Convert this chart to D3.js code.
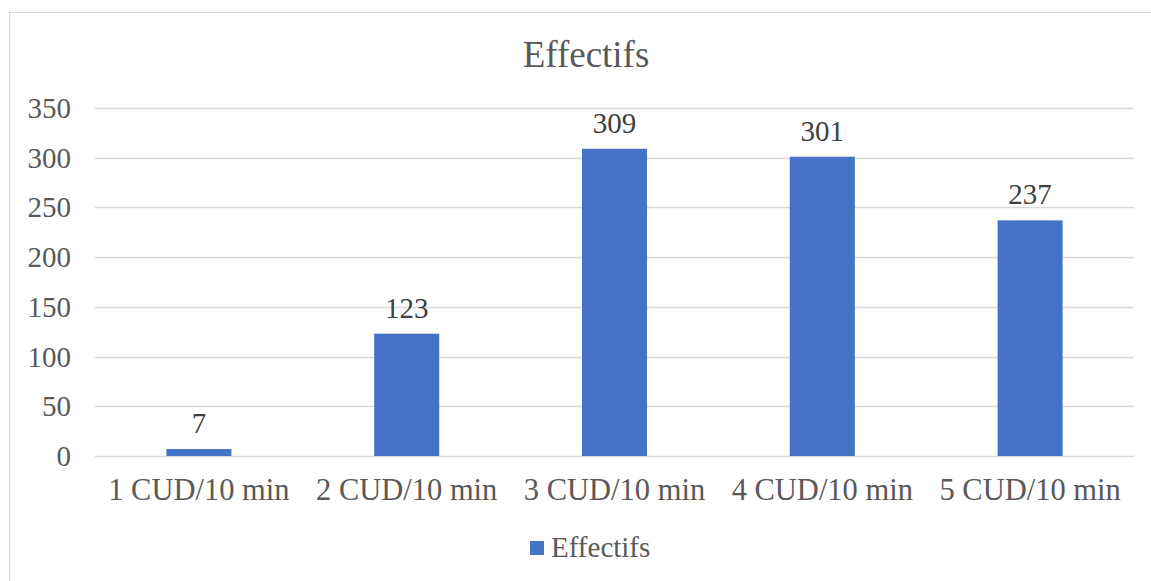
<!DOCTYPE html>
<html><head><meta charset="utf-8">
<script src="https://cdn.jsdelivr.net/npm/d3@7"></script>
<style>body{margin:0;background:#fff}svg{display:block}</style>
</head><body>
<script>
const categories = ["1 CUD/10 min","2 CUD/10 min","3 CUD/10 min","4 CUD/10 min","5 CUD/10 min"];
const values = [7,123,309,301,237];
const yTicks = [0,50,100,150,200,250,300,350];
const seriesName = "Effectifs";
const title = "Effectifs";

(function(){
const W=1151,H=581;
const svg=d3.select("body").append("svg").attr("width",W).attr("height",H);
const font="Liberation Serif, Times New Roman, serif";
svg.append("rect").attr("x",9.5).attr("y",12.5).attr("width",1160).attr("height",600)
  .attr("fill","#fff").attr("stroke","#d9d9d9").attr("stroke-width",1);

const pl=95,pr=1134,pt=108,pb=456;
const x=d3.scaleBand().domain(categories).range([pl,pr]);
const y=d3.scaleLinear().domain([0,350]).range([pb,pt]);

svg.append("g").selectAll("line").data(yTicks).join("line")
  .attr("x1",pl).attr("x2",pr).attr("y1",d=>Math.round(y(d))+0.5).attr("y2",d=>Math.round(y(d))+0.5)
  .attr("stroke","#d9d9d9").attr("stroke-width",1.3);

svg.append("g").selectAll("text").data(yTicks).join("text")
  .attr("x",71).attr("y",d=>y(d)+10).attr("text-anchor","end")
  .attr("font-family",font).attr("font-size",29).attr("fill","#595959").text(d=>d);

const bw=x.bandwidth()*0.313;
svg.append("g").selectAll("rect").data(values).join("rect")
  .attr("x",(d,i)=>x(categories[i])+x.bandwidth()/2-bw/2).attr("width",bw)
  .attr("y",d=>y(d)).attr("height",d=>y(0)-y(d)).attr("fill","#4472c4");

svg.append("g").selectAll("text").data(values).join("text")
  .attr("x",(d,i)=>x(categories[i])+x.bandwidth()/2).attr("y",d=>y(d)-16)
  .attr("text-anchor","middle").attr("font-family",font).attr("font-size",29).attr("fill","#404040").text(d=>d);

svg.append("g").selectAll("text").data(categories).join("text")
  .attr("x",d=>x(d)+x.bandwidth()/2).attr("y",500)
  .attr("text-anchor","middle").attr("font-family",font).attr("font-size",30.5).attr("fill","#595959").text(d=>d);

svg.append("text").attr("x",586).attr("y",67).attr("text-anchor","middle")
  .attr("font-family",font).attr("font-size",37).attr("fill","#595959").text(title);

svg.append("rect").attr("x",530).attr("y",541).attr("width",14).attr("height",14).attr("fill","#4472c4");
svg.append("text").attr("x",551).attr("y",557).attr("font-family",font).attr("font-size",29).attr("fill","#595959").text(seriesName);
})();
</script>
</body></html>
